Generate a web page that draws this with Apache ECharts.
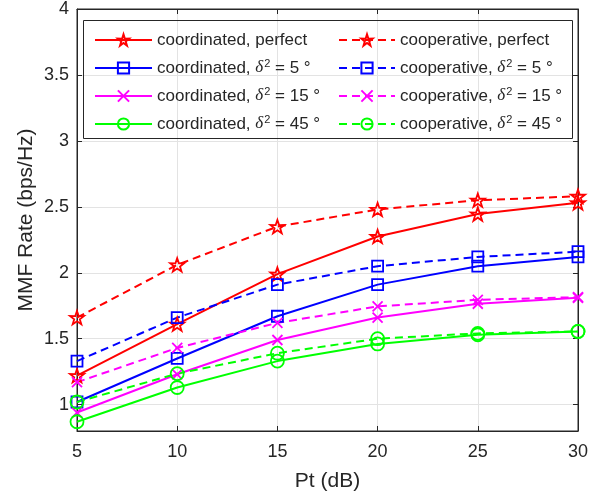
<!DOCTYPE html>
<html><head><meta charset="utf-8">
<script src="https://cdn.jsdelivr.net/npm/echarts@6/dist/echarts.min.js"></script>
<style>html,body{margin:0;padding:0;background:#fff}#c{width:602px;height:497px}</style>
</head><body><div id="c"></div>
<script>
const xValues = [5, 10, 15, 20, 25, 30];
const coordPerfect = [1.22, 1.61, 1.99, 2.275, 2.445, 2.53];
const coopPerfect  = [1.66, 2.06, 2.35, 2.48, 2.55, 2.58];
const coord5  = [1.02, 1.35, 1.67, 1.91, 2.05, 2.12];
const coop5   = [1.33, 1.66, 1.91, 2.05, 2.12, 2.16];
const coord15 = [0.94, 1.23, 1.49, 1.66, 1.765, 1.81];
const coop15  = [1.17, 1.43, 1.62, 1.745, 1.795, 1.815];
const coord45 = [0.87, 1.13, 1.33, 1.46, 1.53, 1.555];
const coop45  = [1.02, 1.235, 1.39, 1.50, 1.54, 1.555];
const seriesNames = [
  'coordinated, perfect', 'cooperative, perfect',
  'coordinated, δ2 = 5 °', 'cooperative, δ2 = 5 °',
  'coordinated, δ2 = 15 °', 'cooperative, δ2 = 15 °',
  'coordinated, δ2 = 45 °', 'cooperative, δ2 = 45 °'
];
const seriesData = [coordPerfect, coopPerfect, coord5, coop5, coord15, coop15, coord45, coop45];
const colors = ['#ff0000','#ff0000','#0000ff','#0000ff','#ff00ff','#ff00ff','#00ff00','#00ff00'];

const STAR = 'path://M50,0 L61.8,35.1 L97.6,34.5 L69.1,56.7 L79.4,90.5 L50,70 L20.6,90.5 L30.9,56.7 L2.4,34.5 L38.2,35.1 Z';
const CROSS = 'path://M0,0 L10,10 M10,0 L0,10';
const symbols = [STAR, STAR, 'rect', 'rect', CROSS, CROSS, 'circle', 'circle'];
const sizes = [14, 14, 11, 11, 10, 10, 13, 13];

const AX = '#262626';
const font = 'Liberation Sans, Arial, sans-serif';

const series = seriesNames.map((n, i) => ({
  name: n,
  type: 'line',
  data: xValues.map((x, k) => [x, seriesData[i][k]]),
  symbol: symbols[i],
  symbolSize: sizes[i],
  symbolKeepAspect: true,
  showAllSymbol: true,
  clip: false,
  lineStyle: { color: colors[i], width: 2, type: i % 2 === 0 ? 'solid' : [8, 5] },
  itemStyle: { color: 'rgba(255,255,255,0)', borderColor: colors[i], borderWidth: 1.8 },
  emphasis: { disabled: true },
  animation: false
}));

const richText = {
  i: { fontFamily: 'Liberation Serif, serif', fontStyle: 'italic', fontSize: 17, color: AX, lineHeight: 20 },
  s: { fontFamily: font, fontSize: 11, color: AX, verticalAlign: 'top', lineHeight: 20, padding: [0, 0, 0, 1] }
};
const fmt = (name) => name.replace('δ2', '{i|δ}{s|2}');

const legendBase = {
  orient: 'vertical',
  itemHeight: 14,
  itemGap: 8,
  textStyle: { fontFamily: font, fontSize: 17, color: AX, lineHeight: 20, rich: richText },
  formatter: fmt,
  selectedMode: false
};

const option = {
  animation: false,
  grid: { left: 77, right: 24, top: 9, bottom: 66, show: true, borderColor: AX, borderWidth: 1 },
  xAxis: [{
    type: 'value', min: 5, max: 30, interval: 5,
    name: 'Pt (dB)', nameLocation: 'middle', nameGap: 40,
    nameTextStyle: { fontFamily: font, fontSize: 21, color: AX },
    axisLine: { lineStyle: { color: AX } },
    axisTick: { inside: true, length: 5, lineStyle: { color: AX } },
    axisLabel: { fontFamily: font, fontSize: 18, color: AX, margin: 12 },
    splitLine: { show: true, lineStyle: { color: '#e3e3e3' } }
  }, {
    type: 'value', min: 5, max: 30, interval: 5, position: 'top',
    axisLine: { lineStyle: { color: AX } },
    axisTick: { inside: true, length: 5, lineStyle: { color: AX } },
    axisLabel: { show: false }, splitLine: { show: false }
  }],
  yAxis: [{
    type: 'value', min: 0.8, max: 4, splitNumber: 6,
    name: 'MMF Rate (bps/Hz)', nameLocation: 'middle', nameGap: 40, nameMoveOverlap: false,
    nameTextStyle: { fontFamily: font, fontSize: 21, color: AX },
    axisLine: { show: true, lineStyle: { color: AX } },
    axisTick: { show: true, inside: true, length: 5, lineStyle: { color: AX } },
    axisLabel: { fontFamily: font, fontSize: 18, color: AX, margin: 8, showMinLabel: false },
    splitLine: { show: true, lineStyle: { color: '#e3e3e3' } }
  }, {
    type: 'value', min: 0.8, max: 4, splitNumber: 6, position: 'right',
    axisLine: { show: true, lineStyle: { color: AX } },
    axisTick: { show: true, inside: true, length: 5, lineStyle: { color: AX } },
    axisLabel: { show: false }, splitLine: { show: false }
  }],
  legend: [
    Object.assign({}, legendBase, { left: 89, top: 25, itemWidth: 57, data: seriesNames.filter((_, i) => i % 2 === 0) }),
    Object.assign({}, legendBase, { left: 333, top: 25, itemWidth: 56, data: seriesNames.filter((_, i) => i % 2 === 1) })
  ],
  graphic: [{
    type: 'rect', left: 83, top: 20, z: 10, silent: true,
    shape: { width: 489, height: 118 },
    style: { fill: 'rgba(255,255,255,0)', stroke: AX, lineWidth: 1 }
  }, {
    type: 'rect', left: 84, top: 21, z: 0, silent: true,
    shape: { width: 487, height: 116 },
    style: { fill: '#fff' }
  }],
  series: series
};
const chart = echarts.init(document.getElementById('c'), null, { renderer: 'canvas' });
chart.setOption(option);
</script></body></html>
